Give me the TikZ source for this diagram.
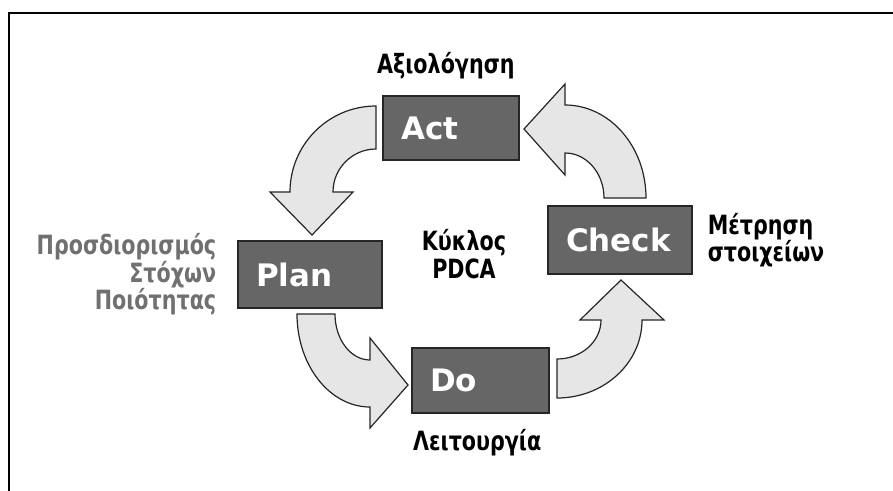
\documentclass[tikz,border=0pt]{standalone}
\usepackage{fontspec}
\usepackage{xcolor}
\usetikzlibrary{positioning}
\setmainfont{DejaVu Sans}
\newfontfamily\stagefont{DejaVu Sans}
\newfontfamily\notefont[FakeStretch=0.78]{DejaVu Sans}
\definecolor{stagegray}{HTML}{666666}
\definecolor{arrowgray}{HTML}{E6E6E6}
\definecolor{notegray}{HTML}{707070}
\tikzset{
  stage/.style={draw=black!85, line width=1.2pt, fill=stagegray, text=white,
    font=\stagefont\bfseries\fontsize{31}{31}\selectfont,
    inner xsep=18pt, inner ysep=0pt, align=left, text width=#1},
  note/.style={font=\notefont\bfseries\fontsize{26.5}{27.5}\selectfont, inner sep=0pt},
  cyclearrow/.style={draw=black!85, line width=1.2pt, fill=arrowgray, line join=miter}
}

\begin{document}
\begin{tikzpicture}[x=1pt, y=1pt]
    \useasboundingbox (0,0) rectangle (893,-490);

    % Frame
    \draw[line width=1.6pt] (9,-500) |- (903,-13);

    % The four stages
    \node[stage=100pt, minimum height=64pt] (act) at (451,-128) {Act};
    \node[stage=108pt, minimum height=67pt] (plan) at (310,-274.5) {Plan};
    \node[stage=108pt, minimum height=68pt] (check) at (620,-240) {Check};
    \node[stage=101pt, minimum height=65pt] (do) at (480.5,-380.5) {Do};

    % Centres of the curved arrows
    \coordinate (c1) at (376,-192);
    \coordinate (c2) at (565,-198);
    \coordinate (c3) at (370,-314);
    \coordinate (c4) at (557,-320);

    % Act -> Plan
    \draw[cyclearrow] (c1) ++(0,86) arc[start angle=90, end angle=180, radius=86pt]
        -- ++(-20,0) -- ++(42,-43) -- ++(41,43) -- ++(-20,0)
        arc[start angle=180, end angle=90, radius=43pt] -- cycle;
    % Check -> Act
    \draw[cyclearrow] (c2) ++(81,0) arc[start angle=0, end angle=90, x radius=81pt, y radius=93pt]
        -- ++(0,21) -- ++(-41,-45) -- ++(41,-46) -- ++(0,22)
        arc[start angle=90, end angle=0, x radius=39pt, y radius=45pt] -- cycle;
    % Plan -> Do
    \draw[cyclearrow] (c3) ++(-73,0) arc[start angle=180, end angle=270, x radius=73pt, y radius=93pt]
        -- ++(0,-21) -- ++(38,43) -- ++(-38,47) -- ++(0,-22)
        arc[start angle=270, end angle=180, x radius=35pt, y radius=46pt] -- cycle;
    % Do -> Check
    \draw[cyclearrow] (c4) ++(0,-78) arc[start angle=270, end angle=360, x radius=85pt, y radius=78pt]
        -- ++(22,0) -- ++(-43,40) -- ++(-41,-40) -- ++(21,0)
        arc[start angle=360, end angle=270, x radius=44pt, y radius=39pt] -- cycle;

    % Labels
    \node[note, anchor=base west] (evaluate) at (377,-73) {Αξιολόγηση};
    \node[note, anchor=base, align=center] (pdca) at (464,-278) {Κύκλος\\PDCA};
    \node[note, left=21pt of plan, align=right, text=notegray] (goals) {Προσδιορισμός\\Στόχων\\Ποιότητας};
    \node[note, right=15pt of check, align=left] (measure) {Μέτρηση\\στοιχείων};
    \node[note, anchor=base west] (operation) at (413,-450) {Λειτουργία};
\end{tikzpicture}
\end{document}
